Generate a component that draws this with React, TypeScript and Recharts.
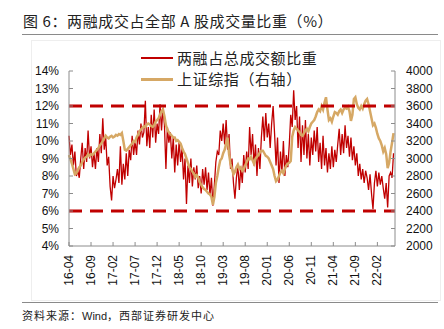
import { LineChart, Line, XAxis, YAxis, ReferenceLine } from "recharts";

// x axis labels, one every 5 months starting 2016-04
const monthLabels = [
  "16-04", "16-09", "17-02", "17-07", "17-12", "18-05", "18-10", "19-03",
  "19-08", "20-01", "20-06", "20-11", "21-04", "21-09", "22-02",
];

// 两融成交额占比 (%), three readings per month from 2016-04
const marginRatio = [
  10.3, 9.2, 9.8, 8.6, 9.4, 8.0, 8.3, 7.9, 9.0, 9.9, 8.4, 9.6, 8.8, 10.6, 9.0,
  9.7, 8.5, 9.3, 8.4, 9.6, 8.8, 10.4, 9.3, 11.3, 9.5, 10.2, 8.6,
  // 2017
  9.1, 7.4, 6.6, 8.0, 7.3, 7.8, 8.4, 7.6, 9.7, 7.5, 8.7, 7.8, 9.3, 8.0, 9.5,
  8.9, 10.3, 9.2, 10.0, 9.2, 10.6, 9.8, 11.0, 10.2, 10.5, 12.3, 9.7,
  10.8, 9.6, 11.5, 10.2, 11.8, 9.9, 11.0, 10.4, 12.1,
  // 2018
  10.6, 11.9, 10.9, 8.4, 10.8, 9.9, 10.5, 9.0, 10.2, 8.2, 9.8, 8.6, 10.0, 8.8, 9.6,
  7.8, 9.0, 6.4, 8.6, 7.6, 9.0, 7.4, 8.5, 7.8, 8.6, 7.3, 8.0,
  7.0, 8.4, 7.5, 8.5, 7.2, 8.2, 6.9, 7.9, 6.3,
  // 2019
  7.5, 8.8, 9.4, 9.2, 10.6, 10.0, 11.0, 9.8, 11.2, 9.5, 10.4, 8.4, 9.0, 7.6, 6.7,
  7.9, 8.6, 7.2, 8.5, 7.6, 9.2, 8.2, 9.4, 8.4, 10.8, 9.2, 10.4,
  8.6, 9.8, 8.0, 9.6, 8.4, 10.2, 11.4, 10.0, 11.6,
  // 2020
  10.2, 11.0, 9.6, 11.0, 12.0, 10.4, 8.6, 10.2, 7.6, 9.4, 8.2, 10.0, 8.0, 9.2, 8.5,
  9.8, 11.5, 10.8, 12.9, 11.2, 12.0, 9.6, 11.4, 8.8, 10.9, 9.2, 11.2,
  9.0, 10.4, 8.6, 10.2, 9.2, 10.6, 9.4, 10.8, 8.8,
  // 2021
  9.9, 8.4, 10.3, 8.6, 9.6, 8.2, 9.3, 8.4, 9.7, 8.5, 9.5, 8.8, 9.8, 10.7, 9.2,
  10.4, 9.3, 10.9, 9.6, 10.3, 9.1, 10.2, 8.9, 9.7, 8.6, 9.3, 8.0,
  8.7, 7.8, 8.4, 7.6, 8.3, 7.9, 7.2, 8.1, 7.0,
  // 2022
  6.1, 7.6, 8.3, 7.4, 8.2, 7.5, 8.0, 7.3, 6.7, 7.6, 6.2, 8.0, 8.2, 7.9, 9.3,
];

// 上证综指, same dates
const shIndex = [
  3040, 2990, 2940, 2880, 2820, 2830, 2870, 2900, 2920, 2960, 2990, 3010,
  3020, 3050, 3030, 3050, 3040, 3060, 3080, 3100, 3120, 3150, 3170, 3200,
  3230, 3260, 3240,
  // 2017
  3230, 3250, 3260, 3240, 3250, 3270, 3260, 3280, 3270, 3290, 3200, 3100,
  3090, 3110, 3130, 3150, 3170, 3200, 3190, 3240, 3270, 3310, 3330, 3350,
  3370, 3360, 3390, 3400, 3390, 3370, 3360, 3380, 3420, 3440, 3460, 3500,
  // 2018
  3540, 3560, 3480, 3380, 3330, 3300, 3280, 3260, 3240, 3240, 3200, 3210,
  3190, 3170, 3120, 3080, 3050, 3000, 2950, 2900, 2880, 2850, 2830, 2790,
  2810, 2780, 2730, 2700, 2670, 2650, 2640, 2620, 2600, 2590, 2560, 2470,
  // 2019
  2560, 2720, 2800, 2900, 2980, 3000, 3060, 3100, 3170, 3240, 3050, 2940,
  2880, 2820, 2850, 2900, 2930, 2880, 2900, 2860, 2880, 2920, 2960, 3000,
  2990, 3020, 2980, 2940, 3000, 3020, 3040, 3070, 3090, 3090, 3060, 3030,
  // 2020
  3020, 3000, 2960, 2920, 2880, 2800, 2740, 2760, 2800, 2840, 2860, 2830,
  2880, 2920, 2940, 2950, 2970, 3250, 3320, 3360, 3340, 3320, 3300, 3270,
  3260, 3290, 3320, 3340, 3310, 3360, 3400, 3420, 3440, 3480, 3530, 3560,
  // 2021
  3540, 3600, 3560, 3640, 3700, 3560, 3440, 3460, 3420, 3480, 3530, 3520,
  3500, 3540, 3560, 3520, 3560, 3580, 3570, 3590, 3540, 3430, 3500, 3680,
  3700, 3620, 3580, 3560, 3600, 3570, 3620, 3660, 3680, 3620, 3540, 3460,
  // 2022
  3380, 3400, 3350, 3280, 3230, 3200, 3150, 3080, 3120, 3050, 2890, 2950,
  3080, 3180, 3290,
];

const leftTicks = [4, 5, 6, 7, 8, 9, 10, 11, 12, 13, 14];
const rightTicks = [2000, 2200, 2400, 2600, 2800, 3000, 3200, 3400, 3600, 3800, 4000];
const bands = [12, 6];

const RED = "#C00000";
const TAN = "#D6A865";
const AXIS = "#8c8c8c";
const LATIN = "'Liberation Sans', Arial, sans-serif";
const CJK = "'Noto Sans CJK SC', sans-serif";

// three readings per month -> x in months since 2016-04
const rows = marginRatio.map((r, i) => ({ m: i / 3, ratio: r, sh: shIndex[i] }));

function LeftTick(p: any) {
  return (
    <g>
      <line x1={p.x} y1={p.y} x2={p.x + 4} y2={p.y} stroke={AXIS} />
      <text x={p.x - 10} y={p.y} dy={4} textAnchor="end" fontSize={12} fontFamily={LATIN} fill="#111">
        {p.payload.value}%
      </text>
    </g>
  );
}

function RightTick(p: any) {
  return (
    <g>
      <line x1={p.x} y1={p.y} x2={p.x - 4} y2={p.y} stroke={AXIS} />
      <text x={p.x + 11} y={p.y} dy={4} textAnchor="start" fontSize={12} fontFamily={LATIN} fill="#111">
        {p.payload.value}
      </text>
    </g>
  );
}

function BottomTick(p: any) {
  const label = monthLabels[Math.round(p.payload.value / 5)];
  return (
    <g>
      <line x1={p.x} y1={p.y} x2={p.x} y2={p.y - 4} stroke={AXIS} />
      <text
        x={p.x}
        y={p.y + 9}
        dy={4}
        textAnchor="end"
        transform={`rotate(-90, ${p.x}, ${p.y + 9})`}
        fontSize={12}
        fontFamily={LATIN}
        fill="#111"
      >
        {label}
      </text>
    </g>
  );
}

export default function App() {
  return (
    <div style={{ position: "absolute", left: 0, top: 0, width: 444, height: 329, background: "#fff" }}>
      <div
        style={{
          position: "absolute", left: 23, top: 10, fontSize: 15, letterSpacing: 0.6,
          fontFamily: CJK, color: "#222", whiteSpace: "nowrap", lineHeight: "22px",
        }}
      >
        图 6：两融成交占全部 A 股成交量比重（%）
      </div>
      <div style={{ position: "absolute", left: 22, top: 34, width: 416, height: 0, borderTop: "1.5px solid #8a8a8a" }} />
      <div style={{ position: "absolute", left: 31, top: 40, width: 408, height: 259, border: "1px solid #eeeeee" }} />

      <div style={{ position: "absolute", left: 0, top: 0 }}>
        <LineChart width={444} height={300} data={rows} margin={{ top: 71, right: 4, bottom: 14, left: 19 }}>
          <XAxis
            dataKey="m"
            type="number"
            domain={[0, 74]}
            ticks={monthLabels.map((_, i) => i * 5)}
            interval={0}
            tick={BottomTick}
            tickLine={false}
            tickSize={0}
            tickMargin={0}
            height={40}
            stroke={AXIS}
          />
          <YAxis
            yAxisId="left"
            domain={[4, 14]}
            ticks={leftTicks}
            interval={0}
            tick={LeftTick}
            tickLine={false}
            tickSize={0}
            tickMargin={0}
            width={50}
            stroke={AXIS}
          />
          <YAxis
            yAxisId="right"
            orientation="right"
            domain={[2000, 4000]}
            ticks={rightTicks}
            interval={0}
            tick={RightTick}
            tickLine={false}
            tickSize={0}
            tickMargin={0}
            width={45}
            stroke={AXIS}
          />
          <Line
            yAxisId="left"
            type="linear"
            dataKey="ratio"
            stroke={RED}
            strokeWidth={1.3}
            dot={false}
            isAnimationActive={false}
          />
          <Line
            yAxisId="right"
            type="linear"
            dataKey="sh"
            stroke={TAN}
            strokeWidth={2.5}
            dot={false}
            isAnimationActive={false}
          />
          {bands.map((b) => (
            <ReferenceLine key={b} yAxisId="left" y={b} stroke={RED} strokeWidth={3} strokeDasharray="13 8" />
          ))}
        </LineChart>
      </div>

      <div style={{ position: "absolute", left: 141, top: 49, width: 32, height: 0, borderTop: `2px solid ${RED}`, marginTop: 8 }} />
      <div
        style={{
          position: "absolute", left: 177, top: 47, fontSize: 15, letterSpacing: 0.6,
          fontFamily: CJK, color: "#222", whiteSpace: "nowrap", lineHeight: "22px",
        }}
      >
        两融占总成交额比重
      </div>
      <div style={{ position: "absolute", left: 141, top: 70, width: 32, height: 0, borderTop: `3px solid ${TAN}`, marginTop: 8 }} />
      <div
        style={{
          position: "absolute", left: 177, top: 68, fontSize: 15, letterSpacing: 0.6,
          fontFamily: CJK, color: "#222", whiteSpace: "nowrap", lineHeight: "22px",
        }}
      >
        上证综指（右轴）
      </div>

      <div style={{ position: "absolute", left: 22, top: 302, width: 416, height: 0, borderTop: "1.5px solid #8a8a8a" }} />
      <div
        style={{
          position: "absolute", left: 22, top: 307, fontSize: 11, letterSpacing: 1,
          fontFamily: CJK, color: "#222", whiteSpace: "nowrap", lineHeight: "16px",
        }}
      >
        资料来源：<span style={{ fontFamily: LATIN, letterSpacing: 0 }}>Wind</span>，西部证券研发中心
      </div>
    </div>
  );
}
